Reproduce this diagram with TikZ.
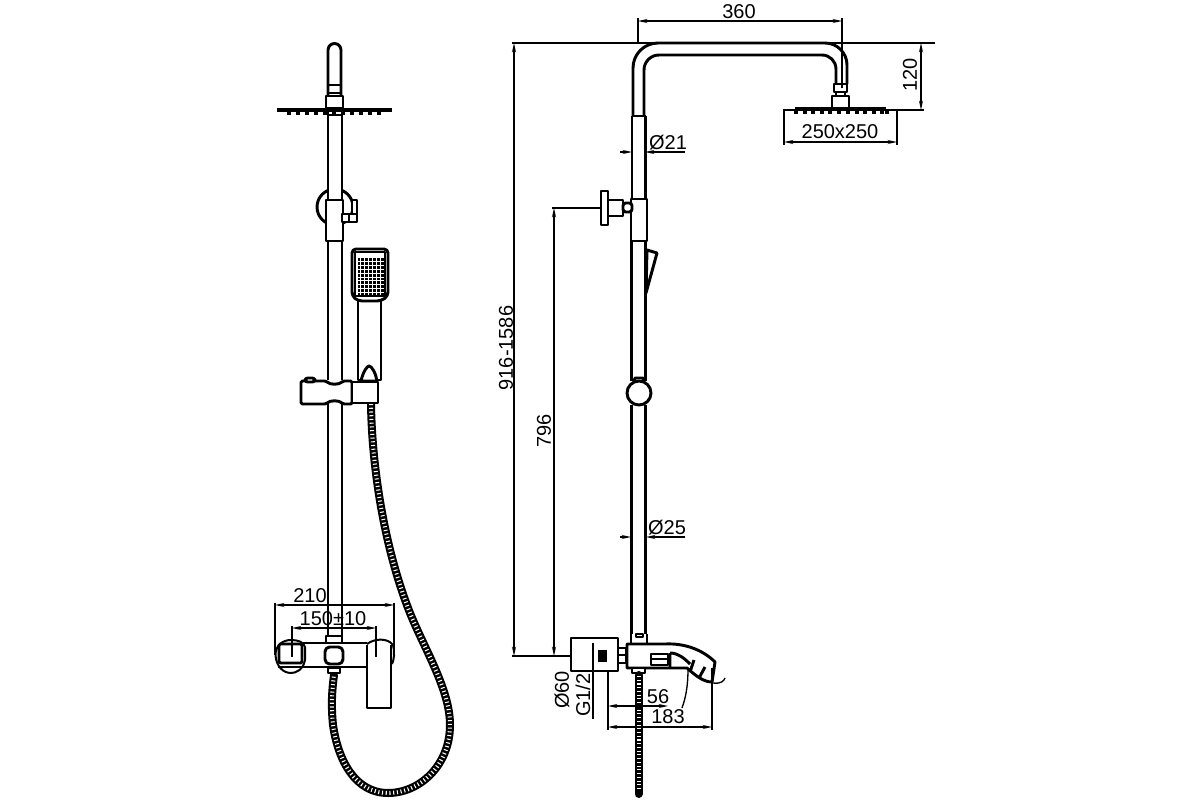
\documentclass[tikz,border=0pt]{standalone}
\usepackage{fontspec}
\setmainfont{Liberation Sans}
\usetikzlibrary{arrows.meta}
\tikzset{
 ol/.style={draw=black,line width=2.2pt,line join=round},
 thin ol/.style={draw=black,line width=1.5pt,line join=round},
 dim/.style={draw=black,line width=1pt},
 dimarrow/.style={dim,{Stealth[length=7pt,width=3pt]}-{Stealth[length=7pt,width=3pt]}},
 dimone/.style={dim,-{Stealth[length=7pt,width=3pt]}},
 label/.style={font=\fontsize{15}{15}\selectfont,text=black,inner sep=0pt},
 hoseb/.style={draw=black,line width=6pt,line cap=round},
 hosew/.style={draw=white,line width=3pt,dash pattern=on 0.8pt off 2pt},
 face/.style={fill=white},
}
\begin{document}
\begin{tikzpicture}[x=0.75pt,y=-0.75pt]
\useasboundingbox[fill=white] (0,0) rectangle (1200,800);
% ===== LEFT VIEW =====
% hose
\def\lefthose{(371,404) .. controls (372,470) and (385,550) .. (410,613) .. controls (425,650) and (450,690) .. (450,725) .. controls (450,765) and (420,793) .. (388,793) .. controls (355,793) and (338,760) .. (333,725) .. controls (331,705) and (332,690) .. (334,675)}
\draw[hoseb] \lefthose;
\draw[hosew] \lefthose;
% wall bracket circle
\draw[ol] (335,207) circle (18);
\fill[white] (328,185) rectangle (343,240);
% shower plate
\draw[draw=black,line width=2.6pt] (277,110) -- (392,110);
\foreach \x in {289,298,307,316,325,334,343,352,361,370,379}{\fill (\x-1.7,110) rectangle (\x+1.7,114.5);}
% riser
\draw[ol,face] (328,96) -- (328,50) arc[start angle=180,end angle=360,radius=6.5] -- (341,96);
\draw[ol] (328,85) -- (341,85) (328,93) -- (341,93);
\draw[ol] (328,108) -- (328,380) (342,108) -- (342,380);
\draw[ol] (326,96) rectangle (343,108);
\draw[thin ol] (329,115) -- (341,115);
\draw[ol,face] (326,200) rectangle (343,241);
% wall valve
\draw[ol,face] (342,214) rectangle (349,222);
\draw[ol,face] (349,214) rectangle (357,222);
\draw[ol,face] (352,200) rectangle (357,214);
% hand shower
\draw[ol,face] (358,298) -- (358,380) -- (381,380) -- (381,298);
\draw[ol,face,rounded corners=3pt] (352,249) -- (388,249) -- (388,296) -- (381,301) -- (358,301) -- (352,296) -- cycle;
\draw[thin ol] (355,252) rectangle (385,296);
\foreach \i in {0,...,6}\foreach \j in {0,...,9}{\fill[black] (357.5+\i*3.9,258+\j*3.9) rectangle ++(2.9,2.9);}
\draw[ol,face] (361,381) .. controls (363,372) and (367,366) .. (369,366) .. controls (372,366) and (376,374) .. (377,381) -- (361,381);
% slider
\draw[ol,face,rounded corners=1pt] (301,381) -- (326,381) .. controls (330,385) and (339,385) .. (343,381) -- (352,381) -- (352,404) -- (343,404) .. controls (339,400) and (330,400) .. (326,404) -- (301,404) -- cycle;
\draw[ol,face] (352,382) rectangle (378,403);
\draw[ol,face,rounded corners=2pt] (305,378) rectangle (315,382);
% lower riser
\draw[ol] (328,402) -- (328,636) (342,402) -- (342,636);
\draw[ol,face] (326,636) rectangle (342,643);
% mixer body
\draw[thin ol] (303,643) -- (367,643) (278,667) -- (367,667);
\draw[thin ol] (275.5,655) .. controls (275.5,645) and (283,640) .. (291,640) .. controls (298,640) and (304,642) .. (305,647) -- (305,660) .. controls (303,670) and (296,673) .. (291,673) .. controls (283,673) and (276,666) .. (275.5,655);
\draw[ol,face,rounded corners=1pt] (279,644) rectangle (302,663);
\draw[ol,face,rounded corners=3.5pt] (325,647) rectangle (343,664);
\draw[thin ol] (367,644) .. controls (375,638) and (388,638) .. (393,645) .. controls (395,652) and (394,660) .. (392,664);
\draw[ol,face] (367,645) -- (367,708) -- (391,708) -- (391,645);
\draw[thin ol,face] (328,668) rectangle (340,673);
% ===== RIGHT VIEW =====
% head
\draw[dim] (784,110) -- (897,110);
\draw[draw=black,line width=2.4pt] (795,108.5) -- (886,108.5);
\foreach \x in {796,805,813,822,830,839,848,857,865,874,882,887}{\fill (\x-1.6,108.5) rectangle (\x+1.6,114);}
% arm
\draw[ol] (633,116) -- (633,68) arc[start angle=180,end angle=270,radius=25] -- (825,43) arc[start angle=270,end angle=360,radius=22] -- (847,84);
\draw[ol] (644,116) -- (644,70) arc[start angle=180,end angle=270,radius=15] -- (822,55) arc[start angle=270,end angle=360,radius=14] -- (836,84);
\draw[ol] (834,84) rectangle (847,92);
\draw[ol] (836,92) -- (836,96) (845,92) -- (845,96);
\draw[ol,face] (832,96) rectangle (849,108);
% riser
\draw[ol] (632,116) -- (646,116);
\draw[ol] (632,116) -- (632,199) (645.5,116) -- (645.5,199);
\draw[ol,face] (631,199) rectangle (647,241);
\draw[ol] (631.5,241) -- (631.5,381) (645.5,241) -- (645.5,381);
\draw[ol] (631.5,405) -- (631.5,634) (645.5,405) -- (645.5,634);
\draw[ol,face] (634,382) -- (635,378) -- (643,378) -- (644,382);
\draw[ol,face] (639,393) circle (12);
% wall valve
\draw[ol,face] (601,191) rectangle (608,225);
\draw[ol,face] (608,200) rectangle (623,216);
\draw[ol,face,rounded corners=2pt] (623,203) rectangle (632,212);
% hand shower side
\draw[ol,face] (647,250) -- (657,253) -- (646,293) -- cycle;
% mixer wall plate
\draw[ol] (631,634) -- (631,644) (647,634) -- (647,644);
\draw[thin ol] (636,634) rectangle (643,637);
\draw[ol,face] (571,638) rectangle (618,671);
\fill[black] (598,650) rectangle (607,662);
\draw[thin ol,face] (618,648) rectangle (626,655) (618,655) rectangle (626,663);
% spout
\draw[ol,face] (627,644) -- (665,644) .. controls (685,643) and (703,650) .. (715,662) -- (712,682) .. controls (703,682) and (695,675) .. (687,668) -- (627,668) -- cycle;
\draw[ol] (651,654) rectangle (668,665) (651,659) -- (668,659);
\draw[ol] (670,653) -- (670,667) (670,653) .. controls (678,653) and (684,658) .. (690,664);
\draw[ol] (694,660) -- (690,672) (705,667) -- (699,678);
\draw[thin ol,face] (632,668) rectangle (645,673);
\draw[hoseb] (638.5,675) -- (638.5,794);
\draw[hosew] (638.5,676) -- (638.5,790);
% ===== DIMENSIONS =====
\draw[dim] (512,43) -- (935,43);
\draw[dim] (512,656) -- (571,656);
\draw[dim] (552,208) -- (600,208);
\draw[dimarrow] (514,43) -- (514,656);
\draw[dimarrow] (554,208) -- (554,656);
\draw[dimarrow] (638,21) -- (842,21);
\draw[dim] (638,18) -- (638,43) (842,18) -- (842,88);
\draw[dimarrow] (921,43) -- (921,110);
\draw[dim] (849,110) -- (924,110);
\draw[dim] (784,109) -- (784,145) (897,109) -- (897,145);
\draw[dimarrow] (784,142) -- (897,142);
\draw[dimone] (620,152) -- (632,152);
\draw[dimone] (685,152) -- (645,152);
\draw[dimone] (620,537) -- (631,537);
\draw[dimone] (685,537) -- (646,537);
\draw[dim] (593,643) -- (593,719);
\draw[dim] (608,671) -- (608,730) (712,668) -- (712,730);
\draw[dimarrow] (608,706) -- (668,706);
\draw[dimarrow] (608,727) -- (712,727);
\draw[dim] (688,669) .. controls (688,685) and (686,697) .. (682,708);
\draw[dim] (713,683) .. controls (721,684) and (724,681) .. (725,678);
% left dims
\draw[dimarrow] (275,605) -- (394,605);
\draw[dim] (275,603) -- (275,655) (394,603) -- (394,650);
\draw[dimarrow] (292,628) -- (376,628);
\draw[dim] (292,626) -- (292,657) (376,626) -- (376,657);
% ===== TEXT =====
\node[label] (t360) at (739,12) {360};
\node[label,rotate=90] (t120) at (910,75) {120};
\node[label] (t250) at (840,132) {250x250};
\node[label] (t21) at (668,143) {Ø21};
\node[label] (t25) at (667,528) {Ø25};
\node[label,rotate=90] (t916) at (506,348) {916-1586};
\node[label,rotate=90] (t796) at (544,431) {796};
\node[label,rotate=90] (t60) at (562,690) {Ø60};
\node[label,rotate=90] (t12) at (583,695) {G1/2};
\node[label] (t56) at (658,697) {56};
\node[label] (t183) at (668,717) {183};
\node[label] (t210) at (310,596) {210};
\node[label] (t150) at (333,619) {150±10};
\end{tikzpicture}
\end{document}
